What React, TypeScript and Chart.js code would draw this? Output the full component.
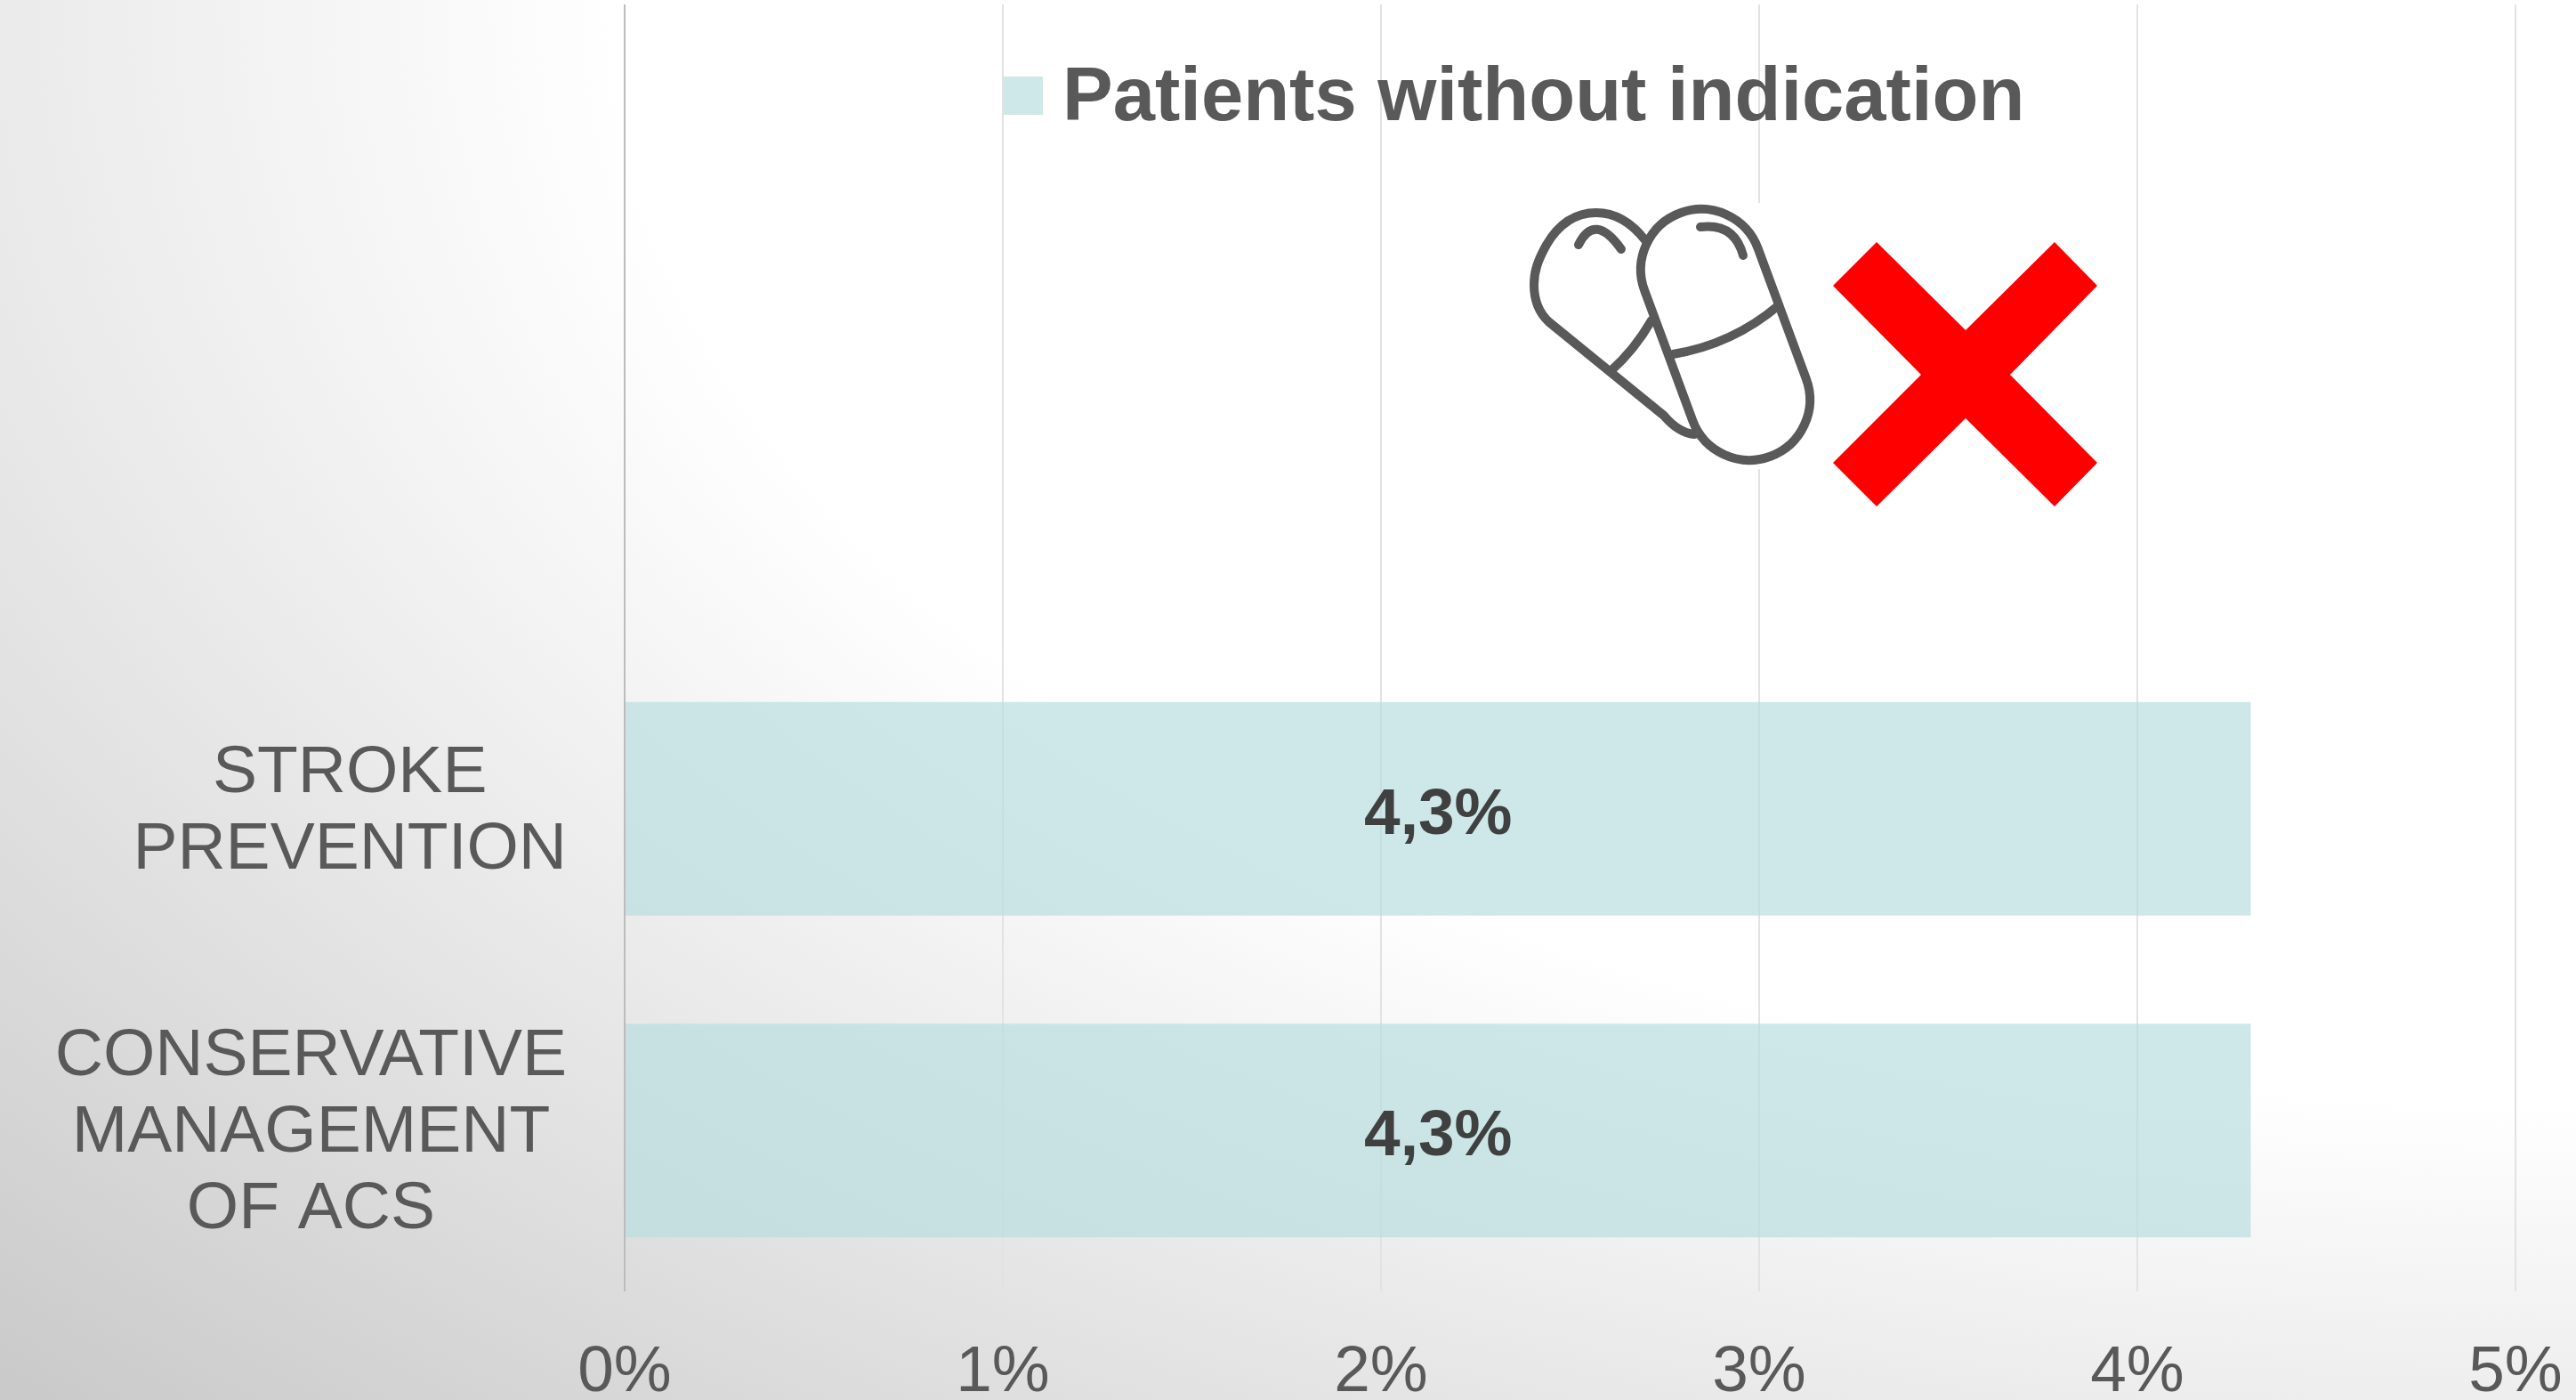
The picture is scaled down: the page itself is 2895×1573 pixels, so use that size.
import React, { useEffect, useRef } from "react";
import { Chart, registerables } from "chart.js";

Chart.register(...registerables);

const categories: (string | string[])[] = ["", "", ["STROKE", "PREVENTION"], ["CONSERVATIVE", "MANAGEMENT", "OF ACS"]];
const withoutIndication: (number | null)[] = [null, null, 4.3, 4.3];
const valueLabels: (string | null)[] = [null, null, "4,3%", "4,3%"];
const seriesName = "Patients without indication";

const FONT = '"Liberation Sans", Arial, sans-serif';
const W = 2895;
const H = 1573;

const backgroundPlugin = {
  id: "pageBackground",
  beforeDraw(chart: any) {
    const { ctx } = chart;
    ctx.save();
    ctx.fillStyle = "#ffffff";
    ctx.fillRect(0, 0, W, H);
    // elliptical shade centred on the top right corner
    const sy = 670 / 1188;
    ctx.translate(W, 0);
    ctx.scale(1, sy);
    const R = 1188 * (2895 / 1568);
    const g = ctx.createRadialGradient(0, 0, 0, 0, 0, R * 1.833);
    g.addColorStop(0, "#ffffff");
    g.addColorStop(1 / 1.833, "#ffffff");
    g.addColorStop(1, "#c9c9c9");
    ctx.fillStyle = g;
    ctx.fillRect(-W, 0, W, H / sy);
    ctx.restore();
  },
};

function drawIcon(ctx: CanvasRenderingContext2D) {
  ctx.save();
  ctx.fillStyle = "#ffffff";
  ctx.fillRect(1712, 228, 334, 299);
  ctx.strokeStyle = "#595959";
  ctx.lineWidth = 10;
  ctx.lineCap = "round";
  ctx.lineJoin = "round";
  // rear capsule
  ctx.beginPath();
  ctx.moveTo(1849, 270);
  ctx.bezierCurveTo(1835, 252, 1817, 239, 1794, 239);
  ctx.bezierCurveTo(1765, 239, 1748, 258, 1738, 275);
  ctx.bezierCurveTo(1728, 293, 1724, 305, 1724, 320);
  ctx.bezierCurveTo(1724, 338, 1730, 352, 1741, 362);
  ctx.lineTo(1870, 467);
  ctx.quadraticCurveTo(1886, 486, 1904, 488);
  ctx.stroke();
  ctx.beginPath();
  ctx.moveTo(1810, 417);
  ctx.quadraticCurveTo(1837, 393, 1856, 360);
  ctx.stroke();
  ctx.beginPath();
  ctx.moveTo(1774, 275);
  ctx.quadraticCurveTo(1792, 238, 1822, 280);
  ctx.stroke();
  // front capsule
  const r = 68;
  const a = Math.atan2(146, 54);
  ctx.beginPath();
  ctx.arc(1912, 303, r, a + Math.PI / 2, a + (3 * Math.PI) / 2);
  ctx.arc(1966, 449, r, a - Math.PI / 2, a + Math.PI / 2);
  ctx.closePath();
  ctx.stroke();
  ctx.beginPath();
  ctx.moveTo(1880, 398);
  ctx.quadraticCurveTo(1947, 387, 1999, 343);
  ctx.stroke();
  ctx.beginPath();
  ctx.moveTo(1911, 255);
  ctx.quadraticCurveTo(1949, 250, 1959, 287);
  ctx.stroke();
  // red cross
  ctx.fillStyle = "#ff0000";
  ctx.beginPath();
  const cross = [
    [2109, 272], [2209, 371], [2309, 272], [2357, 321], [2259, 421], [2357, 520],
    [2309, 569], [2209, 470], [2109, 569], [2060, 520], [2159, 421], [2060, 321],
  ];
  cross.forEach(([x, y], i) => (i ? ctx.lineTo(x, y) : ctx.moveTo(x, y)));
  ctx.closePath();
  ctx.fill();
  ctx.restore();
}

const annotationsPlugin = {
  id: "annotations",
  afterDatasetsDraw(chart: any) {
    const { ctx, scales } = chart;
    ctx.save();
    // category labels: a block hung from the right edge, centred inside
    ctx.font = `75px ${FONT}`;
    ctx.fillStyle = "#595959";
    ctx.textBaseline = "alphabetic";
    ctx.textAlign = "center";
    const lineH = 86;
    chart.data.labels.forEach((label: string | string[], i: number) => {
      const lines = Array.isArray(label) ? label : [label];
      if (!lines[0]) return;
      const widest = Math.max(...lines.map((l) => ctx.measureText(l).width));
      const cx = 637 - widest / 2;
      const cy = scales.y.getPixelForValue(i);
      lines.forEach((l, k) => {
        ctx.fillText(l, cx, cy + (k - (lines.length - 1) / 2) * lineH + 24);
      });
    });
    // value labels
    ctx.font = `bold 73px ${FONT}`;
    ctx.fillStyle = "#404040";
    ctx.textBaseline = "middle";
    chart.getDatasetMeta(0).data.forEach((bar: any, i: number) => {
      const t = valueLabels[i];
      if (!t) return;
      ctx.fillText(t, (bar.x + bar.base) / 2, bar.y + 8);
    });
    // legend
    ctx.fillStyle = "rgb(206,232,233)";
    ctx.fillRect(1128, 86, 44, 43);
    ctx.font = `bold 85px ${FONT}`;
    ctx.fillStyle = "#595959";
    ctx.textAlign = "left";
    ctx.textBaseline = "alphabetic";
    ctx.fillText(chart.data.datasets[0].label, 1194, 135);
    drawIcon(ctx);
    ctx.restore();
  },
};

export default function App() {
  const ref = useRef<HTMLCanvasElement>(null);
  useEffect(() => {
    const chart = new Chart(ref.current as HTMLCanvasElement, {
      type: "bar",
      data: {
        labels: categories as any,
        datasets: [
          {
            label: seriesName,
            data: withoutIndication as any,
            backgroundColor: "rgba(185,222,224,0.7)",
            borderWidth: 0,
            categoryPercentage: 1,
            barPercentage: 0.664,
          },
        ],
      },
      options: {
        indexAxis: "y",
        animation: false,
        responsive: false,
        devicePixelRatio: 1,
        layout: { padding: { left: 702, right: 68, top: 5, bottom: 0 } },
        plugins: { legend: { display: false }, tooltip: { enabled: false } },
        scales: {
          x: {
            type: "linear",
            min: 0,
            max: 5,
            grid: {
              drawTicks: false,
              lineWidth: 2,
              color: (c: any) => (c.tick && c.tick.value === 0 ? "#bcbcbc" : "#e2e2e2"),
            },
            border: { display: false },
            ticks: {
              stepSize: 1,
              padding: 48,
              maxRotation: 0,
              color: "#595959",
              font: { family: FONT, size: 73 },
              callback: (v: any) => `${v}%`,
            },
            afterFit: (s: any) => {
              s.height = 122;
              s.paddingLeft = 0;
              s.paddingRight = 0;
            },
          },
          y: {
            type: "category",
            grid: { display: false },
            border: { display: false },
            ticks: { display: false },
            afterFit: (s: any) => {
              s.width = 0;
            },
          },
        },
      } as any,
      plugins: [backgroundPlugin, annotationsPlugin],
    });
    return () => chart.destroy();
  }, []);
  return (
    <div style={{ position: "fixed", left: 0, top: 0, width: W, height: H }}>
      <canvas ref={ref} width={W} height={H} style={{ display: "block" }} />
    </div>
  );
}
